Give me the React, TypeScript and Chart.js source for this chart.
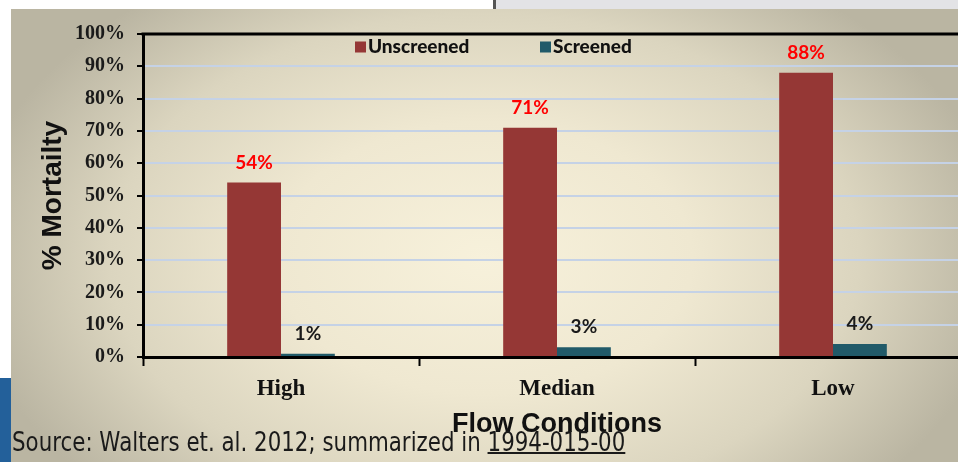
import React, { useEffect, useRef } from "react";
import { Chart, registerables } from "chart.js";

Chart.register(...registerables);

const categories = ["High", "Median", "Low"];
const seriesNames = ["Unscreened", "Screened"];
const unscreened = [54, 71, 88];
const screened = [1, 3, 4];
const yTickValues = [0, 10, 20, 30, 40, 50, 60, 70, 80, 90, 100];
const yTitle = "% Mortailty";
const xTitle = "Flow Conditions";
const sourcePrefix = "Source: Walters et. al. 2012; summarized in ";
const sourceLink = "1994-015-00";

const seriesColors = ["#953735", "#215a69"];
const labelColors = ["#ff0000", "#1a1a1a"];

const frameTopPlugin = {
  id: "frameTop",
  afterDraw(chart: any) {
    const { ctx, chartArea } = chart;
    ctx.save();
    ctx.strokeStyle = "#000";
    ctx.lineWidth = 3;
    ctx.beginPath();
    ctx.moveTo(chartArea.left - 1.5, chartArea.top);
    ctx.lineTo(chartArea.right + 20, chartArea.top);
    ctx.stroke();
    ctx.restore();
  },
};

const valueLabelPlugin = {
  id: "valueLabels",
  afterDatasetsDraw(chart: any) {
    const { ctx } = chart;
    ctx.save();
    ctx.font = "bold 19px Lato";
    ctx.textAlign = "center";
    ctx.textBaseline = "middle";
    chart.data.datasets.forEach((ds: any, di: number) => {
      const meta = chart.getDatasetMeta(di);
      meta.data.forEach((el: any, i: number) => {
        ctx.fillStyle = labelColors[di];
        ctx.fillText(ds.data[i] + "%", el.x, el.y - 20);
      });
    });
    ctx.restore();
  },
};

const legendOffsets = [212, 397];
const customLegendPlugin = {
  id: "customLegend",
  afterDraw(chart: any) {
    const { ctx, chartArea } = chart;
    ctx.save();
    ctx.font = "900 19px Lato";
    ctx.textBaseline = "middle";
    ctx.textAlign = "left";
    chart.data.datasets.forEach((ds: any, di: number) => {
      const x = chartArea.left + legendOffsets[di];
      const y = chartArea.top + 13;
      ctx.fillStyle = ds.backgroundColor;
      ctx.fillRect(x, y - 5.5, 11, 11);
      ctx.fillStyle = "#111";
      ctx.fillText(ds.label, x + 13, y);
    });
    ctx.restore();
  },
};

export default function App() {
  const canvasRef = useRef<HTMLCanvasElement | null>(null);
  const srcRef = useRef<HTMLDivElement | null>(null);

  useEffect(() => {
    if (srcRef.current) {
      const w = srcRef.current.offsetWidth;
      if (w > 0) {
        srcRef.current.style.transform = `scaleX(${613 / w})`;
      }
    }
    const canvas = canvasRef.current;
    if (!canvas) return;
    const chart = new Chart(canvas, {
      type: "bar",
      data: {
        labels: categories,
        datasets: [
          {
            label: seriesNames[0],
            data: unscreened,
            backgroundColor: seriesColors[0],
            borderWidth: 0,
          },
          {
            label: seriesNames[1],
            data: screened,
            backgroundColor: seriesColors[1],
            borderWidth: 0,
          },
        ],
      },
      options: {
        responsive: false,
        animation: false,
        devicePixelRatio: 1,
        layout: { padding: { top: 34, left: 0, right: 19, bottom: 0 } },
        datasets: {
          bar: { categoryPercentage: 0.39, barPercentage: 1.0 },
        },
        plugins: {
          legend: { display: false },
          tooltip: { enabled: false },
        },
        scales: {
          x: {
            offset: true,
            afterFit: (scale: any) => {
              scale.height = 105;
            },
            grid: {
              offset: true,
              drawOnChartArea: false,
              drawTicks: true,
              tickLength: 9,
              tickColor: "#000",
              tickWidth: 2,
            },
            border: { display: true, color: "#000", width: 3 },
            ticks: {
              color: "#111",
              padding: 9,
              font: { family: "Liberation Serif", weight: "bold", size: 23 },
            },
            title: {
              display: true,
              text: xTitle,
              color: "#111",
              font: { family: "Liberation Sans", weight: "bold", size: 27 },
              padding: { top: 0, bottom: 21 },
            },
          },
          y: {
            min: 0,
            max: 100,
            afterFit: (scale: any) => {
              scale.width = 143;
            },
            afterBuildTicks: (scale: any) => {
              scale.ticks = yTickValues.map((v) => ({ value: v }));
            },
            grid: {
              color: "#c5d2e6",
              lineWidth: 2,
              drawTicks: true,
              tickLength: 6,
              tickColor: "#000",
              tickWidth: 2,
            },
            border: { display: true, color: "#000", width: 3 },
            ticks: {
              color: "#1a1a1a",
              padding: 12,
              font: { family: "Liberation Serif", weight: "bold", size: 20 },
              callback: (v: any) => v + "%",
            },
            title: {
              display: true,
              text: yTitle,
              color: "#111",
              font: { family: "Liberation Sans", weight: "bold", size: 28 },
              padding: { top: 36, bottom: 0 },
            },
          },
        },
      },
      plugins: [frameTopPlugin, valueLabelPlugin, customLegendPlugin],
    });
    return () => chart.destroy();
  }, []);

  return (
    <div
      style={{
        position: "fixed",
        left: 0,
        top: 0,
        width: 958,
        height: 462,
        overflow: "hidden",
        background: "#ffffff",
      }}
    >
      <div
        style={{
          position: "absolute",
          left: 496,
          top: 0,
          width: 462,
          height: 9,
          background: "#e3e3e6",
        }}
      />
      <div
        style={{
          position: "absolute",
          left: 493,
          top: 0,
          width: 3,
          height: 9,
          background: "#555",
        }}
      />
      <div
        style={{
          position: "absolute",
          left: 11,
          top: 9,
          width: 947,
          height: 453,
          background:
            "radial-gradient(55% 75% at 50% 55%, #f7f1db 0%, #efe8d1 40%, #dbd5bf 72%, #bab5a2 100%)",
        }}
      />
      <div
        style={{
          position: "absolute",
          left: 0,
          top: 378,
          width: 11,
          height: 84,
          background: "#23609a",
        }}
      />
      <canvas
        ref={canvasRef}
        width={990}
        height={462}
        style={{ position: "absolute", left: 0, top: 0, width: 990, height: 462 }}
      />
      <div
        ref={srcRef}
        style={{
          position: "absolute",
          left: 12,
          top: 429,
          whiteSpace: "nowrap",
          fontFamily: "'DejaVu Sans'",
          fontSize: 26,
          lineHeight: "26px",
          color: "#1a1a1a",
          transformOrigin: "0 0",
        }}
      >
        {sourcePrefix}
        <span style={{ textDecoration: "underline", textDecorationThickness: 2 }}>
          {sourceLink}
        </span>
      </div>
    </div>
  );
}
